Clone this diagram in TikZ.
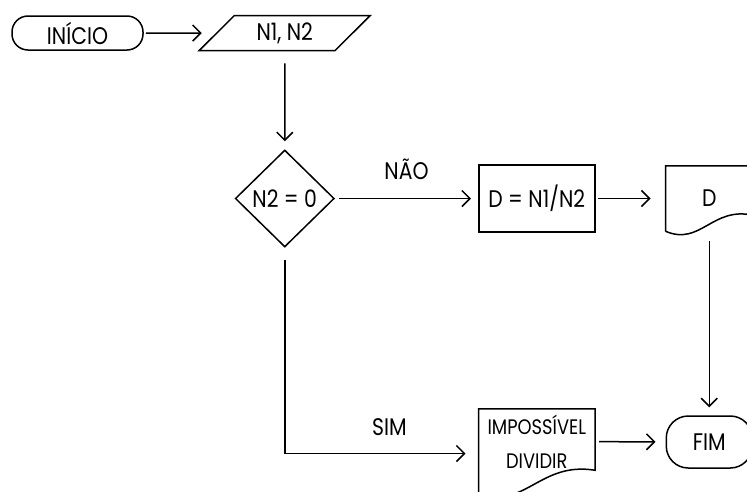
\documentclass[tikz,border=0pt]{standalone}
\usepackage{fontspec}
\setmainfont{Poppins}[FakeStretch=0.85]
\usetikzlibrary{arrows.meta, positioning, shapes.geometric}

\begin{document}
\begin{tikzpicture}[x=1pt, y=1pt, >={Straight Barb[length=8pt, width=16pt]}, line width=1.5pt,
    font=\fontsize{24}{28}\selectfont,
    terminal/.style={draw, rounded corners=16pt, inner sep=2pt},
    caixa/.style={draw, inner sep=2pt},
    rotulo/.style={inner sep=2pt}]
    \useasboundingbox (0,0) rectangle (747,-491);

    % Start
    \node[terminal, minimum width=131pt, minimum height=34pt] (inicio) at (77.5,-33) {INÍCIO};

    % Input
    \node[draw, trapezium, trapezium left angle=50, trapezium right angle=130, trapezium stretches=true, minimum width=171pt, minimum height=35pt, inner sep=2pt, right=72pt of inicio] (entrada) {N1, N2};

    % Decision
    \node[draw, diamond, aspect=1, minimum width=99pt, minimum height=97pt, inner sep=0pt, below=98pt of entrada] (teste) {N2 = 0};

    % Division
    \node[caixa, minimum width=116pt, minimum height=67pt, right=143pt of teste] (divisao) {D = N1/N2};

    % Output D
    \node[minimum width=86pt, minimum height=64pt, inner sep=0pt, right=70pt of divisao] (saida) {D};
    \draw (saida.south west) -- (saida.north west) -- (saida.north east) -- ([yshift=16pt]saida.south east)
        .. controls +(-41,9) and +(35,-15) .. (saida.south west);

    % Error message
    \node[minimum width=115pt, minimum height=64pt, inner sep=0pt, align=center, font=\fontsize{21}{34}\selectfont, below=176pt of divisao] (erro) {IMPOSSÍVEL\\DIVIDIR};
    \draw ([yshift=-20pt]erro.south west) -- (erro.north west) -- (erro.north east) -- ([yshift=4pt]erro.south east)
        .. controls +(-55,9) and +(47,-15) .. ([yshift=-20pt]erro.south west);

    % End
    \node[terminal, rounded corners=22pt, minimum width=86pt, minimum height=52pt, below=184pt of saida] (fim) {FIM};

    % Arrows
    \draw[->, shorten <=2pt, shorten >=14pt] (inicio) -- (entrada);
    \draw[->, shorten <=12pt, shorten >=8pt] (entrada) -- (teste);
    \draw[->, shorten <=4pt, shorten >=7pt] (teste) -- node[rotulo, above=16pt] {NÃO} (divisao);
    \draw[->, shorten <=2pt, shorten >=15pt] (divisao) -- (saida);
    \draw[->, shorten <=10pt, shorten >=8pt] (saida) -- (fim);
    \draw[->, shorten <=12pt, shorten >=13pt] (teste.south) |- node[rotulo, pos=0.77, above=15pt] {SIM} ([yshift=-12pt]erro.west);
    \draw[->, shorten <=4pt, shorten >=10pt] (erro) -- (fim);
\end{tikzpicture}
\end{document}
